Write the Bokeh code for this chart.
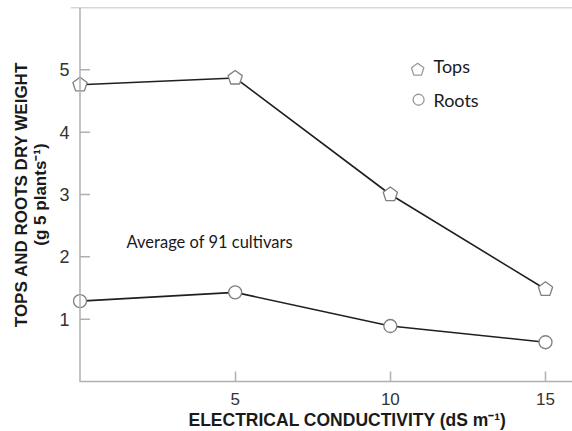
import numpy as np
from bokeh.plotting import figure
from bokeh.models import Range1d, FixedTicker, Span, Title
from bokeh.embed import file_html
from bokeh.resources import INLINE
from bokeh.core.properties import value

# ---- data ----
ec = [0, 5, 10, 15]
tops = [4.76, 4.87, 3.0, 1.48]
roots = [1.29, 1.43, 0.89, 0.63]
x_ticks = [5, 10, 15]
y_ticks = [1, 2, 3, 4, 5]
series_names = ["Tops", "Roots"]
note = "Average of 91 cultivars"
x_label = "ELECTRICAL CONDUCTIVITY (dS m\u207b\u00b9)"
y_label = "TOPS AND ROOTS DRY WEIGHT\n(g 5 plants\u207b\u00b9)"

# ---- layout ----
W, H = 572, 431
BL, BR, BT, BB = 70, 0, 7, 50
XMIN, XMAX, YMIN, YMAX = -0.306, 15.87, 0, 6.0
FW, FH = W - BL - BR, H - BT - BB
ppx = FW / (XMAX - XMIN)
ppy = FH / (YMAX - YMIN)

p = figure(width=W, height=H, output_backend="svg", toolbar_location=None,
           x_range=Range1d(XMIN, XMAX), y_range=Range1d(YMIN, YMAX),
           min_border_left=BL, min_border_right=BR, min_border_top=BT,
           min_border_bottom=BB)
p.grid.visible = False
p.outline_line_color = None
p.background_fill_color = "white"
p.border_fill_color = "white"

AX = "#b0b0b0"
for ax in (p.xaxis[0], p.yaxis[0]):
    ax.axis_line_color = AX
    ax.axis_line_width = 1.5
    ax.major_tick_line_color = AX
    ax.major_tick_line_width = 1.5
    ax.major_tick_in = 10
    ax.major_tick_out = 0
    ax.minor_tick_line_color = None
    ax.major_label_text_font = "Liberation Sans"
    ax.major_label_text_color = "#333333"
    ax.axis_label_text_font = "Liberation Sans"
    ax.axis_label_text_font_style = "bold"
    ax.axis_label_text_color = "#1a1a1a"
    ax.axis_label_text_font_size = "17px"

# y axis: labels from the axis, line and ticks drawn at x = 0
p.yaxis.axis_line_color = None
p.yaxis.major_tick_line_color = None
p.xaxis.bounds = (0, XMAX)
p.xaxis.ticker = FixedTicker(ticks=x_ticks)
p.yaxis.ticker = FixedTicker(ticks=y_ticks)
p.xaxis.major_label_text_font_size = "17px"
p.yaxis.major_label_text_font_size = "18px"
p.xaxis.major_label_standoff = 11
p.yaxis.major_label_standoff = 1
p.yaxis.axis_label = y_label
p.yaxis.axis_label_standoff = 6
p.yaxis.axis_label_text_line_height = 1.05

p.add_layout(Span(location=YMAX, dimension="width", line_color=AX,
                  line_width=1.5))
p.add_layout(Span(location=0, dimension="height", line_color=AX,
                  line_width=1.5))
p.segment(x0=[0] * len(y_ticks), y0=y_ticks,
          x1=[10 / ppx] * len(y_ticks), y1=y_ticks,
          line_color=AX, line_width=1.5)

p.add_layout(Title(text=x_label, align="left", offset=118, standoff=0,
                   text_font="Liberation Sans", text_font_style="bold",
                   text_font_size="17.5px", text_color="#1a1a1a"), "below")

LINE = "#1f1f1f"
MK = "#808080"

p.line(ec, tops, line_color=LINE, line_width=1.6)
p.line(ec, roots, line_color=LINE, line_width=1.6)

def pentagons(xs, ys, r):
    ang = np.pi / 2 + np.arange(5) * 2 * np.pi / 5
    px = [list(x + r * np.cos(ang) / ppx) for x in xs]
    py = [list(y + r * np.sin(ang) / ppy) for y in ys]
    return px, py

tx, ty = pentagons(ec, tops, 7.5)
p.patches(tx, ty, fill_color="white", line_color=MK, line_width=1.3)
p.scatter(ec, roots, marker="circle", size=13, fill_color="white",
          line_color=MK, line_width=1.3)

# legend (manual)
lx, ly = pentagons([10.88], [5.0], 6.5)
p.patches(lx, ly, fill_color="white", line_color="#999999", line_width=1.3)
p.scatter([10.91], [4.52], marker="circle", size=11, fill_color="white",
          line_color="#999999", line_width=1.3)
p.text([11.39, 11.39], [5.06, 4.52], text=series_names,
       text_font=value("Lato"), text_font_size="18px",
       text_baseline="middle", text_align="left", text_color="#1a1a1a")

p.text([1.50], [2.24], text=[note], text_font=value("Lato"),
       text_font_size="16.5px", text_baseline="middle", text_align="left",
       text_color="#1a1a1a")

open("out.html", "w").write(file_html(p, INLINE))
